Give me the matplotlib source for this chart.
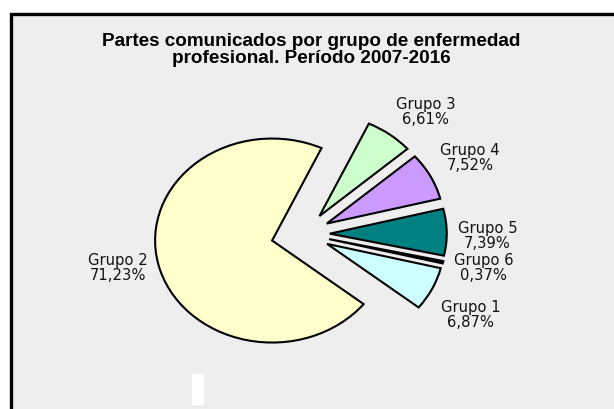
import matplotlib
matplotlib.use("Agg")
import matplotlib.pyplot as plt
from matplotlib.patches import Rectangle

# datos (orden de la serie, sentido horario)
GRUPOS = ["Grupo 1", "Grupo 2", "Grupo 3", "Grupo 4", "Grupo 5", "Grupo 6"]
PORCENTAJES = [6.87, 71.23, 6.61, 7.52, 7.39, 0.37]
COLORES = ["#CCFFFF", "#FFFFCC", "#CCFFCC", "#CC99FF", "#008080", "#000080"]
EXPLODE = [0.22, 0.28, 0.22, 0.22, 0.22, 0.22]

TITULO = "Partes comunicados por grupo de enfermedad\nprofesional. Período 2007-2016"

W, H = 614, 410
# posición de las etiquetas en píxeles (centro del bloque de texto)
POS_ETIQ = {
    "Grupo 1": (470.5, 315),
    "Grupo 2": (118, 268),
    "Grupo 3": (425.5, 112),
    "Grupo 4": (470, 158),
    "Grupo 5": (487.5, 236),
    "Grupo 6": (483.5, 268),
}


def fmt(v):
    return f"{v:.2f}".replace(".", ",") + "%"


fig = plt.figure(figsize=(W / 100, H / 100), dpi=100)
fig.patch.set_facecolor("white")

# capa de fondo en coordenadas de píxel
bg = fig.add_axes([0, 0, 1, 1])
bg.set_xlim(0, W)
bg.set_ylim(H, 0)
bg.axis("off")
bg.add_patch(Rectangle((11, 14.5), 700, 500, facecolor="#EEEEEE",
                       edgecolor="black", linewidth=2.4, zorder=1))
bg.add_patch(Rectangle((192, 375), 12, 31, facecolor="white",
                       edgecolor="none", zorder=2))

bg.text(311, 50, TITULO, ha="center", va="center", multialignment="center",
        fontsize=13.6, fontweight="bold", family="Liberation Sans",
        linespacing=1.0, zorder=3)

for g, v in zip(GRUPOS, PORCENTAJES):
    x, y = POS_ETIQ[g]
    bg.text(x, y, f"{g}\n{fmt(v)}", ha="center", va="center",
            multialignment="center", fontsize=10.6, family="DejaVu Sans",
            color="#111111", linespacing=1.05, zorder=3)

# tarta elíptica: 1 unidad = 117 px en x, 102 px en y
cx, cy = 304, 235
rx, ry = 117, 102
lim = 1.6
pie_ax = fig.add_axes([(cx - lim * rx) / W, (H - cy - lim * ry) / H,
                       2 * lim * rx / W, 2 * lim * ry / H])
pie_ax.axis("off")
pie_ax.patch.set_visible(False)

pie_ax.pie(PORCENTAJES, colors=COLORES, explode=EXPLODE, startangle=-13.8,
           counterclock=False, radius=1,
           wedgeprops=dict(edgecolor="black", linewidth=1.5))
pie_ax.set_xlim(-lim, lim)
pie_ax.set_ylim(-lim, lim)
pie_ax.set_aspect("auto")

fig.savefig("out.png", dpi=100)
